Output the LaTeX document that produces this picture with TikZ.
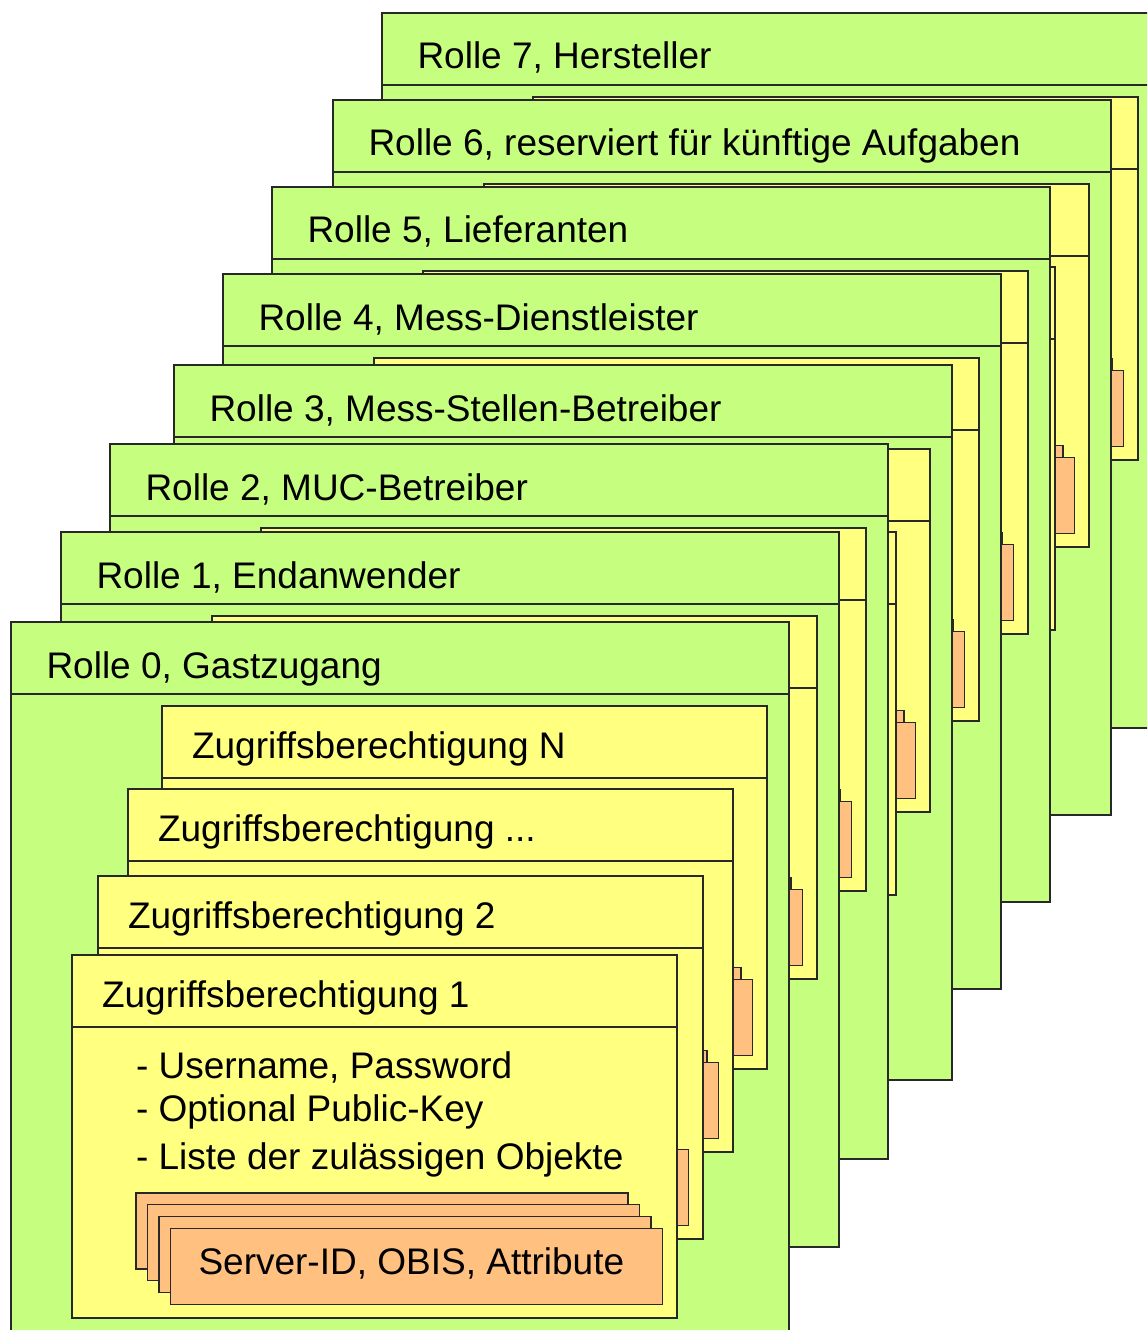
\documentclass[tikz,border=0pt]{standalone}
\usepackage{fontspec}
\setmainfont{Liberation Sans}
\definecolor{rolegreen}{RGB}{198,255,128}
\definecolor{permyellow}{RGB}{255,255,128}
\definecolor{objorange}{RGB}{255,192,128}
\definecolor{edge}{RGB}{40,40,40}

\tikzset{
  box/.style={draw=edge, line width=0.9pt, inner sep=0pt, outer sep=0pt, anchor=north west},
  rolebox/.style={box, fill=rolegreen, minimum width=583.5pt, minimum height=536.25pt},
  permbox/.style={box, fill=permyellow, minimum width=453.75pt, minimum height=272.25pt},
  objbox/.style={box, fill=objorange, minimum width=369pt, minimum height=57pt},
  sep/.style={draw=edge, line width=0.9pt},
  lbl/.style={font=\fontsize{27.75pt}{33pt}\selectfont, anchor=base west, inner sep=0pt, outer sep=0pt}
}

% One role: green frame with title band, four permission cards,
% each card holding a stack of four object cards.
\newcommand\rolestack[4]{%
  \begin{scope}[shift={(#2,#3)}]
    \node[rolebox] (#1) at (0,0) {};
    \draw[sep] (0,72) -- (778,72);
    \node[lbl] (#1-title) at (35.5,56) {#4};
    \foreach \k/\dx/\dy in {4/151/84, 3/117/167, 2/87/254, 1/61/333} {
      \begin{scope}[shift={(\dx,\dy)}]
        \node[permbox] (#1-p\k) at (0,0) {};
        \draw[sep] (0,72) -- (605,72);
        \foreach \j in {0,...,3}
          \node[objbox] (#1-p\k-o\j) at (64+11.5*\j, 238+11.7*\j) {};
      \end{scope}
    }
  \end{scope}%
}

\begin{document}
\begin{tikzpicture}[x=0.75pt, y=-0.75pt]
  \useasboundingbox (0,0) rectangle (1147,1330);
  \clip (0,0) rectangle (1147,1330);

  \rolestack{r7}{382}{13}{Rolle 7, Hersteller}
  \rolestack{r6}{333}{100}{Rolle 6, reserviert für künftige Aufgaben}
  \rolestack{r5}{272}{187}{Rolle 5, Lieferanten}
  \rolestack{r4}{223}{274}{Rolle 4, Mess-Dienstleister}
  \rolestack{r3}{174}{365}{Rolle 3, Mess-Stellen-Betreiber}
  \rolestack{r2}{110}{444}{Rolle 2, MUC-Betreiber}
  \rolestack{r1}{61}{532}{Rolle 1, Endanwender}
  \rolestack{r0}{11}{622}{Rolle 0, Gastzugang}

  % labels of the front role's permission cards
  \node[lbl] (p4-title) at ([shift={(30,52)}]r0-p4.north west) {Zugriffsberechtigung N};
  \node[lbl] (p3-title) at ([shift={(30,52)}]r0-p3.north west) {Zugriffsberechtigung ...};
  \node[lbl] (p2-title) at ([shift={(30,52)}]r0-p2.north west) {Zugriffsberechtigung 2};
  \node[lbl] (p1-title) at ([shift={(30,52)}]r0-p1.north west) {Zugriffsberechtigung 1};

  \node[lbl] (p1-l1) at ([shift={(64,123)}]r0-p1.north west) {- Username, Password};
  \node[lbl] (p1-l2) at ([shift={(64,166)}]r0-p1.north west) {- Optional Public-Key};
  \node[lbl] (p1-l3) at ([shift={(64,214)}]r0-p1.north west) {- Liste der zulässigen Objekte};

  \node[lbl] (obj-text) at ([shift={(28,46)}]r0-p1-o3.north west) {Server-ID, OBIS, Attribute};
\end{tikzpicture}
\end{document}
